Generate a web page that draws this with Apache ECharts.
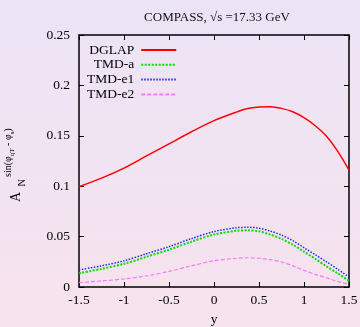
<!DOCTYPE html>
<html>
<head>
<meta charset="utf-8">
<script src="https://cdn.jsdelivr.net/npm/echarts@6/dist/echarts.min.js"></script>
<style>
  html, body { margin: 0; padding: 0; }
  #main { width: 360px; height: 327px; }
</style>
</head>
<body>
<div id="main"></div>
<script>
  // rapidity values
  var yVals = [-1.5, -1.25, -1, -0.75, -0.5, -0.25, 0, 0.25, 0.375, 0.5, 0.625, 0.75, 0.875, 1, 1.125, 1.25, 1.375, 1.5];
  var dglap = [0.0995, 0.108, 0.118, 0.130, 0.142, 0.154, 0.165, 0.1735, 0.177, 0.1785, 0.1789, 0.1772, 0.1738, 0.168, 0.160, 0.1495, 0.1345, 0.116];
  var tmdA  = [0.0136, 0.018, 0.023, 0.030, 0.037, 0.045, 0.052, 0.0558, 0.0562, 0.0553, 0.052, 0.0478, 0.042, 0.035, 0.028, 0.0205, 0.0135, 0.006];
  var tmdE1 = [0.017, 0.021, 0.026, 0.033, 0.040, 0.048, 0.055, 0.0588, 0.0592, 0.0584, 0.0555, 0.0515, 0.046, 0.039, 0.032, 0.025, 0.0175, 0.010];
  var tmdE2 = [0.0043, 0.006, 0.008, 0.011, 0.0155, 0.021, 0.026, 0.0285, 0.029, 0.0285, 0.0272, 0.025, 0.021, 0.0165, 0.0125, 0.009, 0.0055, 0.0027];
  var xTicks = { min: -1.5, max: 1.5, step: 0.5 };
  var yTicks = { min: 0, max: 0.25, step: 0.05 };

  function pairs(arr) {
    var out = [];
    for (var i in arr) {
      out.push([yVals[i], arr[i]]);
    }
    return out;
  }

  var serif = '"Liberation Serif", "DejaVu Serif", serif';
  var chart = echarts.init(document.getElementById('main'));

  function axisCommon(show) {
    return {
      axisLine: { show: true, onZero: false, lineStyle: { color: '#000', width: 1.5 } },
      axisTick: { show: true, inside: true, length: 5, lineStyle: { color: '#000', width: 1 } },
      axisLabel: { show: show, color: '#000', fontFamily: serif, fontSize: 13.5 },
      splitLine: { show: false }
    };
  }

  var xBottom = Object.assign(axisCommon(true), {
    type: 'value', position: 'bottom',
    min: xTicks.min, max: xTicks.max, interval: xTicks.step,
    name: 'y', nameLocation: 'middle', nameGap: 25,
    nameTextStyle: { color: '#000', fontFamily: serif, fontSize: 13.5 }
  });
  xBottom.axisLabel.margin = 6;
  var xTop = Object.assign(axisCommon(false), {
    type: 'value', position: 'top',
    min: xTicks.min, max: xTicks.max, interval: xTicks.step
  });
  var yLeft = Object.assign(axisCommon(true), {
    type: 'value', position: 'left',
    min: yTicks.min, max: yTicks.max, interval: yTicks.step
  });
  yLeft.axisLabel.margin = 9;
  var yRight = Object.assign(axisCommon(false), {
    type: 'value', position: 'right',
    min: yTicks.min, max: yTicks.max, interval: yTicks.step
  });

  function line(name, data, color, width, dash) {
    return {
      name: name,
      type: 'line',
      smooth: 0.3,
      symbol: 'none',
      data: pairs(data),
      lineStyle: { color: color, width: width, type: dash },
      itemStyle: { color: color }
    };
  }

  chart.setOption({
    backgroundColor: {
      type: 'linear', x: 0, y: 0, x2: 0, y2: 1,
      colorStops: [{ offset: 0, color: '#ebe4f6' }, { offset: 1, color: '#f7e3ed' }]
    },
    animation: false,
    title: {
      text: 'COMPASS, √s =17.33 GeV',
      left: 212, top: 6, textAlign: 'center',
      textStyle: { color: '#111', fontFamily: serif, fontSize: 13, fontWeight: 'normal' }
    },
    legend: {
      orient: 'vertical',
      left: 82, top: 38,
      align: 'right',
      itemWidth: 35, itemHeight: 12, itemGap: 0.8,
      itemStyle: { opacity: 0 },
      textStyle: { color: '#000', fontFamily: serif, fontSize: 13.5, width: 50, align: 'right', padding: [0, 2, 0, 0] },
      data: ['DGLAP', 'TMD-a', 'TMD-e1', 'TMD-e2']
    },
    grid: { left: 79, right: 11, top: 35, bottom: 40, outerBoundsMode: 'none', containLabel: false },
    xAxis: [xBottom, xTop],
    yAxis: [yLeft, yRight],
    graphic: [
      { type: 'text', x: 23, y: 197, rotation: Math.PI / 2,
        style: { text: 'A', font: '14px ' + serif, fill: '#000', align: 'center', verticalAlign: 'bottom' } },
      { type: 'text', x: 27, y: 183, rotation: Math.PI / 2,
        style: { text: 'N', font: '10px ' + serif, fill: '#000', align: 'center', verticalAlign: 'bottom' } },
      { type: 'text', x: 16, y: 177, rotation: Math.PI / 2,
        style: {
          text: '{a|sin(φ}{b|qT}{a| - φ}{b|s}{a|)}',
          fill: '#000', align: 'left', verticalAlign: 'bottom',
          rich: {
            a: { font: '10px ' + serif, fill: '#000', lineHeight: 13, verticalAlign: 'top' },
            b: { font: '7px ' + serif, fill: '#000', lineHeight: 13, verticalAlign: 'bottom' }
          }
        } }
    ],
    series: [
      line('DGLAP', dglap, '#ff0000', 1.5, 'solid'),
      line('TMD-a', tmdA, '#00dd00', 2, [2, 1.5]),
      line('TMD-e1', tmdE1, '#2222ff', 1.5, [1.5, 1.5]),
      line('TMD-e2', tmdE2, '#ff77ff', 1.2, [4, 2])
    ]
  });
</script>
</body>
</html>
